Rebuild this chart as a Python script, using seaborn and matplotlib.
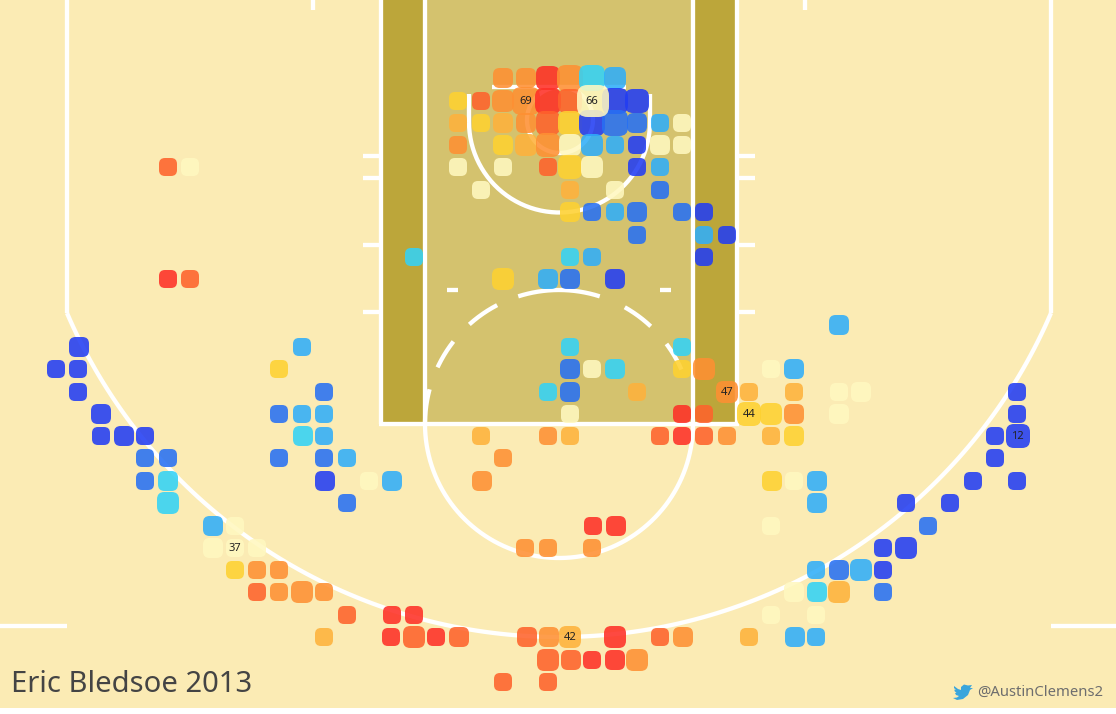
import numpy as np
import pandas as pd
import matplotlib
matplotlib.use("Agg")
import matplotlib.pyplot as plt
from matplotlib.path import Path
from matplotlib.patches import Rectangle
import seaborn as sns

# Shot cells, row by row: (court x, cell width, percentage band)
row_078 = [(503,20,7),(526,20,7),(548,24,9),(570,26,7),(592,26,3),(615,22,2)]
row_101 = [(458,18,5),(481,18,8),(503,22,7),(526,28,7),(548,26,9),(570,24,8),(615,26,0),(637,24,0)]
row_123 = [(458,18,6),(481,18,5),(503,20,6),(526,20,7),(548,24,8),(570,24,5),(592,26,0),(615,26,1),(637,20,1),(660,18,2),(682,18,4)]
row_145 = [(458,18,7),(503,20,5),(526,22,6),(548,24,7),(570,22,4),(592,22,2),(615,18,2),(637,18,0),(660,20,4),(682,18,4)]
row_167 = [(168,18,8),(190,18,4),(458,18,4),(503,18,4),(548,18,8),(570,24,5),(592,22,4),(637,18,0),(660,18,2)]
row_190 = [(481,18,4),(570,18,6),(615,18,4),(660,18,1)]
row_212 = [(570,20,5),(592,18,1),(615,18,2),(637,20,1),(682,18,1),(704,18,0)]
row_235 = [(637,18,1),(704,18,2),(727,18,0)]
row_257 = [(414,18,3),(570,18,3),(592,18,2),(704,18,0)]
row_279 = [(168,18,9),(190,18,8),(503,22,5),(548,20,2),(570,20,1),(615,20,0)]
row_325 = [(839,20,2)]
row_347 = [(79,20,0),(302,18,2),(570,18,3),(682,18,3)]
row_369 = [(56,18,0),(78,18,0),(279,18,5),(570,20,1),(592,18,4),(615,20,3),(682,18,5),(704,22,7),(771,18,4),(794,20,2)]
row_392 = [(78,18,0),(324,18,1),(548,18,3),(570,20,1),(637,18,6),(727,22,7),(749,18,6),(794,18,6),(839,18,4),(861,20,4),(1017,18,0)]
row_414 = [(101,20,0),(279,18,1),(302,18,2),(324,18,2),(570,18,4),(682,18,9),(704,18,8),(749,24,5),(771,22,5),(794,20,7),(839,20,4),(1017,18,0)]
row_436 = [(101,18,0),(124,20,0),(145,18,0),(303,20,3),(324,18,2),(481,18,6),(548,18,7),(570,18,6),(660,18,8),(682,18,9),(704,18,8),(727,18,7),(771,18,6),(794,20,5),(995,18,0),(1018,24,0)]
row_458 = [(145,18,1),(168,18,1),(279,18,1),(324,18,1),(347,18,2),(503,18,7),(995,18,0)]
row_481 = [(145,18,1),(168,20,3),(325,20,0),(369,18,4),(392,20,2),(482,20,7),(772,20,5),(794,18,4),(817,20,2),(973,18,0),(1017,18,0)]
row_503 = [(168,22,3),(347,18,1),(817,20,2),(906,18,0),(950,18,0)]
row_526 = [(213,20,2),(235,18,4),(593,18,9),(616,20,9),(771,18,4),(928,18,1)]
row_548 = [(213,20,4),(235,18,4),(257,18,4),(525,18,7),(548,18,7),(592,18,7),(883,18,0),(906,22,0)]
row_570 = [(235,18,5),(257,18,7),(279,18,7),(816,18,2),(839,20,1),(861,22,2),(883,18,0)]
row_592 = [(257,18,8),(279,18,7),(302,22,7),(324,18,7),(794,20,4),(817,20,3),(839,22,6),(883,18,1)]
row_615 = [(347,18,8),(392,18,9),(414,18,9),(771,18,4),(816,18,4)]
row_637 = [(324,18,6),(391,18,9),(414,22,8),(436,18,9),(459,20,8),(527,20,8),(549,20,7),(570,22,6),(615,22,9),(660,18,8),(683,20,7),(749,18,6),(795,20,2),(816,18,2)]
row_660 = [(548,22,8),(571,20,8),(592,18,9),(615,20,9),(637,22,7)]
row_682 = [(503,18,8),(548,18,8)]
row_top = [(593,32,4)]  # the highlighted cell at 66 percent sits over its neighbours

rows = [(78,row_078),(101,row_101),(123,row_123),(145,row_145),(167,row_167),(190,row_190),
        (212,row_212),(235,row_235),(257,row_257),(279,row_279),(325,row_325),(347,row_347),
        (369,row_369),(392,row_392),(414,row_414),(436,row_436),(458,row_458),(481,row_481),
        (503,row_503),(526,row_526),(548,row_548),(570,row_570),(592,row_592),(615,row_615),
        (637,row_637),(660,row_660),(682,row_682),(101,row_top)]

band_colors = {0:"#223df3",1:"#2770f3",2:"#30aef9",3:"#33d2f6",4:"#fff8c0",
               5:"#fed131",6:"#feb23c",7:"#fe9033",8:"#fe632c",9:"#fe3027"}

value_labels = [("69",526,101),("66",592,101),("47",727,392),("44",749,414),
                ("12",1017,436),("37",235,548),("42",570,637)]

title_text = "Eric Bledsoe 2013"
credit_text = "@AustinClemens2"

df = pd.DataFrame([(x, y, w, b) for y, cells in rows for x, w, b in cells],
                  columns=["x", "y", "width", "band"])

BG, PAINT, LANE, WHITE = "#fbebb4", "#d4c26e", "#bca63a", "#ffffff"
LW = 3.1

sns.set_theme(style="white")
plt.rcParams["font.family"] = ["Noto Sans", "DejaVu Sans"]
fig = plt.figure(figsize=(11.16, 7.14), dpi=100, facecolor="white")
ax = fig.add_axes([0, 0, 1, 1])
ax.set_xlim(0, 1116)
ax.set_ylim(714, 0)
ax.axis("off")

ax.add_patch(Rectangle((0, 0), 1116, 708, fc=BG, ec="none", zorder=0))
ax.add_patch(Rectangle((381, 0), 356, 424, fc=LANE, ec="none", zorder=0.5))
ax.add_patch(Rectangle((425, 0), 268, 424, fc=PAINT, ec="none", zorder=0.6))


def line(xs, ys, **kw):
    ax.plot(xs, ys, color=kw.pop("color", WHITE), lw=kw.pop("lw", LW),
            solid_capstyle="butt", zorder=1, **kw)


def arc(cx, cy, r, a0, a1, **kw):
    t = np.radians(np.linspace(a0, a1, 160))
    line(cx + r * np.cos(t), cy - r * np.sin(t), **kw)


for x in (381, 425, 693, 737):
    line([x, x], [0, 424])
line([379, 739], [424, 424])
for y in (156, 178, 245, 312):
    line([363, 381], [y, y])
    line([737, 755], [y, y])
for x in (313, 805):
    line([x, x], [0, 10])
line([0, 67], [626, 626])
line([1051, 1116], [626, 626])
line([447, 458], [290, 290])
line([660, 671], [290, 290])

# backboard, restricted arc, rim
line([492, 626], [87, 87])
line([469, 469], [94, 122])
line([650, 650], [94, 122])
arc(559.5, 122, 90.5, 180, 360)
arc(560, 120, 33, 0, 360)

# free throw circle
arc(559, 424, 134, 180, 360)
for a0, a1 in [(165, 180), (142, 155), (117.5, 132), (72.3, 107.7), (46.8, 60.6), (24, 36.7)]:
    arc(559, 424, 134, a0, a1)

# three point line
cx3, cy3, r3 = 559, 101.4, 535.6
a = np.degrees(np.arctan2(313 - cy3, 1051 - cx3))
line([67, 67], [0, 313])
line([1051, 1051], [0, 313])
arc(cx3, cy3, r3, 180 + a, 360 - a)

# rounded-square marker
k, c = 0.5, 0.5 - 0.33
verts = [(-c, -k), (c, -k), (k, -k), (k, -c), (k, c), (k, k), (c, k), (-c, k),
         (-k, k), (-k, c), (-k, -c), (-k, -k), (-c, -k), (-c, -k)]
codes = [Path.MOVETO, Path.LINETO, Path.CURVE3, Path.CURVE3, Path.LINETO, Path.CURVE3, Path.CURVE3,
         Path.LINETO, Path.CURVE3, Path.CURVE3, Path.LINETO, Path.CURVE3, Path.CURVE3, Path.CLOSEPOLY]
rounded = Path(verts, codes)

size_map = {w: (w * 0.72) ** 2 for w in sorted(df["width"].unique())}
sns.scatterplot(data=df, x="x", y="y", hue="band", palette=band_colors, size="width",
                sizes=size_map, marker=rounded, alpha=0.88, linewidth=0, legend=False,
                ax=ax, zorder=3)
ax.set_xlim(0, 1116)
ax.set_ylim(714, 0)

for txt, x, y in value_labels:
    ax.text(x, y + 0.5, txt, ha="center", va="center", fontsize=8, color="#222222", zorder=5)

ax.text(11, 685, title_text, fontsize=21, color="#444444", va="center", ha="left", zorder=5)
ax.text(1103, 692, credit_text, fontsize=10.7, color="#6e6e6e", va="center", ha="right", zorder=5)

# small bird mark beside the credit
bird = np.array([(954, 686), (958, 689), (961, 690), (961, 687), (964, 684.5), (968, 685.5), (972, 685),
                 (970, 688), (973, 688), (970, 690), (968, 695), (963, 699), (957, 700), (953, 698),
                 (957, 697.5), (959, 696), (956, 695), (955, 693), (956.5, 693), (954.5, 691), (954.5, 689.5),
                 (956, 690), (954, 688)])
ax.fill(bird[:, 0], bird[:, 1], color="#3aa5dc", lw=0, zorder=5)

fig.savefig("out.png", dpi=100, facecolor="white")
